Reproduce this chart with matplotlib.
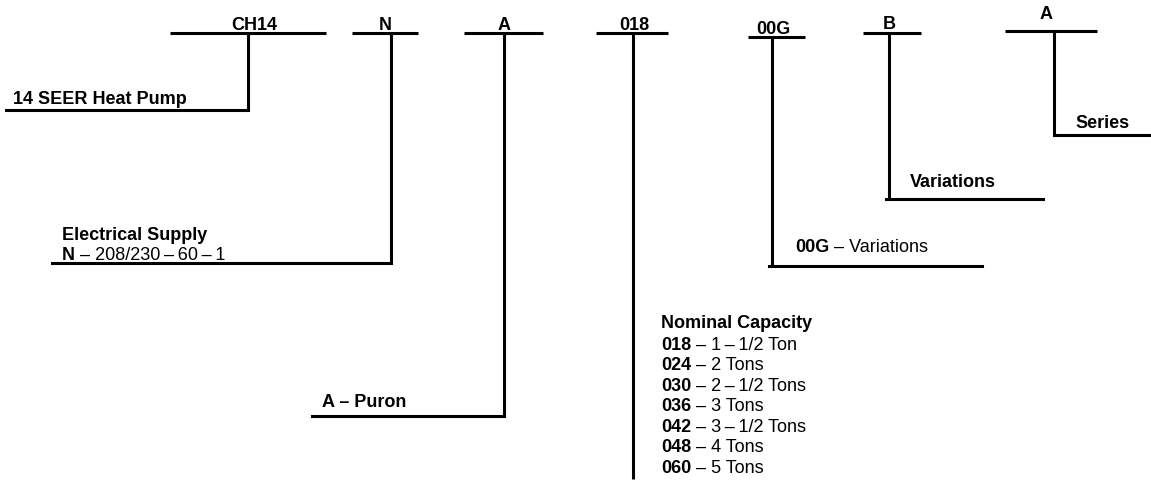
import matplotlib
matplotlib.use("Agg")
import matplotlib.pyplot as plt

plt.rcParams['font.family'] = ['Liberation Sans', 'DejaVu Sans']

TS = "\u2009"  # thin space around the inner dashes
D = TS + "–" + TS

# model number segments, left to right
codes = ["CH14", "N", "A", "018", "00G", "B", "A"]
titles = ["14 SEER Heat Pump", "Electrical Supply", None, "Nominal Capacity", None, "Variations", "Series"]
# (bold code, regular description) rows under each title
entries = [
    [],
    [("N", " – 208/230" + D + "60" + D + "1")],
    [("A – Puron", "")],
    [("018", " – 1" + D + "1/2 Ton"), ("024", " – 2 Tons"), ("030", " – 2" + D + "1/2 Tons"),
     ("036", " – 3 Tons"), ("042", " – 3" + D + "1/2 Tons"), ("048", " – 4 Tons"),
     ("060", " – 5 Tons")],
    [("00G", " – Variations")],
    [],
    [],
]

# layout, in pixels (y down)
bar_x = [(170, 326), (352, 418), (464, 543), (596, 668), (748, 805), (863, 921), (1005, 1097)]
bar_y = [34, 34, 34, 34, 38, 34, 32]
code_x = [254, 385, 504, 634, 773, 889, 1046]
code_y = [30, 30, 30, 30, 34, 29, 19]
stem_x = [248, 391, 504, 633, 772, 889, 1054]
stem_end = [111, 264, 417, 480, 267, 200, 136]
foot_x = [(6, 248), (52, 391), (312, 504), None, (769, 982), (886, 1043), (1054, 1151)]
text_x = [13, 62, 322, 661, 795, 910, 1075]
title_y = [104, 240, None, 328, None, 187, 128]
entry_y0 = [None, 260, 407, 350, 252, None, None]
row_step = 20.5

FS = 13
W, H = 1151, 481
fig = plt.figure(figsize=(W / 100, H / 100), dpi=100)
ax = fig.add_axes([0, 0, 1, 1])
ax.set_xlim(0, W)
ax.set_ylim(H, 0)
ax.axis("off")

LW = 2.2
for i, code in enumerate(codes):
    x0, x1 = bar_x[i]
    ax.plot([x0, x1], [bar_y[i], bar_y[i]], color="black", lw=LW, solid_capstyle="butt")
    ax.plot([stem_x[i], stem_x[i]], [bar_y[i], stem_end[i]], color="black", lw=LW, solid_capstyle="butt")
    if foot_x[i] is not None:
        ax.plot(list(foot_x[i]), [stem_end[i], stem_end[i]], color="black", lw=LW, solid_capstyle="projecting")
    ax.text(code_x[i], code_y[i], code, ha="center", va="baseline", fontsize=FS, fontweight="bold")

fig.canvas.draw()
renderer = fig.canvas.get_renderer()
inv = ax.transData.inverted()

for i in range(len(codes)):
    if titles[i]:
        ax.text(text_x[i], title_y[i], titles[i], ha="left", va="baseline", fontsize=FS, fontweight="bold")
    for r, (bold, reg) in enumerate(entries[i]):
        y = entry_y0[i] + r * row_step
        t = ax.text(text_x[i], y, bold, ha="left", va="baseline", fontsize=FS, fontweight="bold")
        if reg:
            bb = t.get_window_extent(renderer)
            xr = inv.transform((bb.x1, bb.y0))[0]
            ax.text(xr, y, reg, ha="left", va="baseline", fontsize=FS)

fig.savefig("out.png", dpi=100)
